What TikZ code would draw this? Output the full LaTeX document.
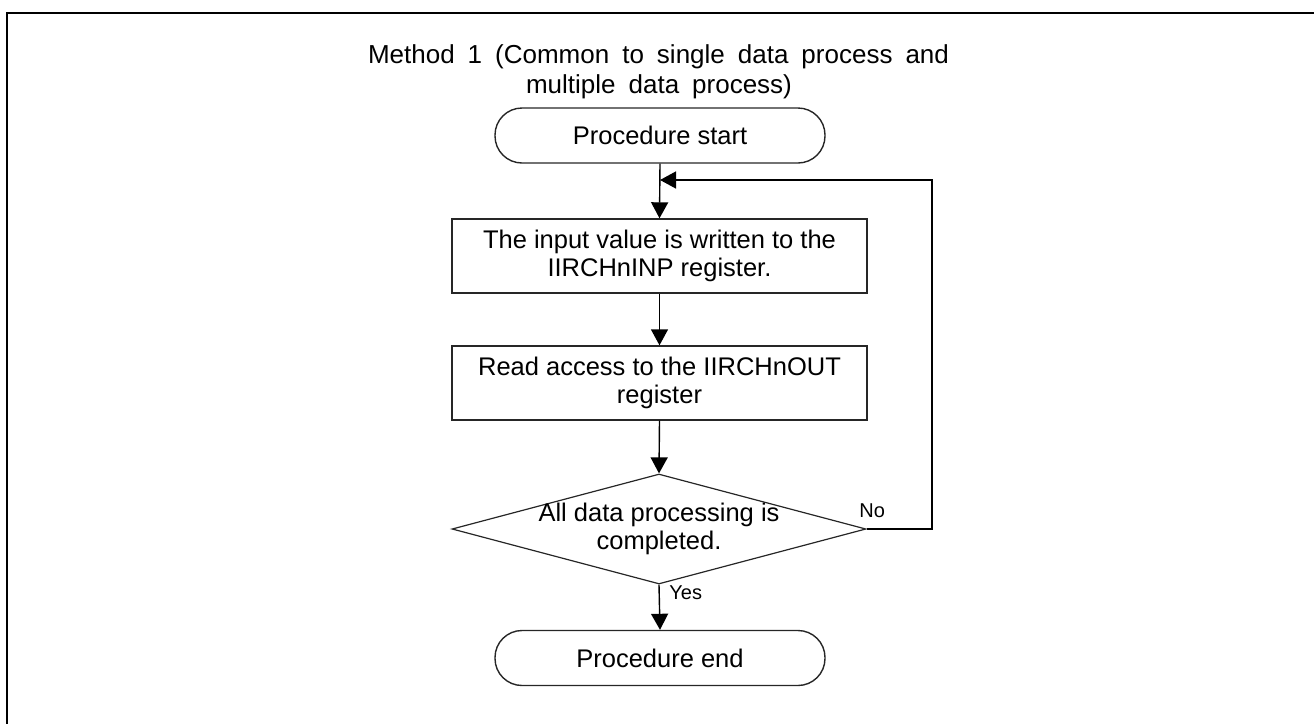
\documentclass[tikz,border=0pt]{standalone}
\usepackage{fontspec}
\setmainfont{Liberation Sans}
\usetikzlibrary{arrows.meta,shapes.geometric}
\begin{document}
\begin{tikzpicture}[x=0.5pt,y=-0.5pt,
  every node/.style={font=\fontsize{12.75pt}{14pt}\selectfont, inner sep=0pt, text=black},
  titletext/.style={font=\fontsize{13pt}{15pt}\selectfont, anchor=base},
  term/.style={draw=black!85, rounded corners=13.5pt, minimum width=165pt, minimum height=27.5pt, line width=0.7pt},
  proc/.style={draw=black!85, minimum width=207.5pt, minimum height=37pt, line width=0.7pt, align=center},
  decision/.style={draw=black!85, diamond, minimum width=207pt, minimum height=55pt, line width=0.6pt},
  conn/.style={line width=0.7pt, draw=black},
  arr/.style={conn, -{Triangle[length=8pt,width=8.5pt]}},
  lbl/.style={font=\fontsize{10pt}{12pt}\selectfont},
  frameline/.style={line width=1pt, draw=black}
]
\useasboundingbox (0,0) rectangle (1314,724);
\draw[frameline] (7,724) -- (7,13) -- (1314,13);

\node[titletext] (title1) at (658.5,63) {\spaceskip=6.5pt Method 1 (Common to single data process and};
\node[titletext] (title2) at (659,93) {\spaceskip=6.5pt multiple data process)};

\node[term] (start) at (660,135.5) {Procedure start};
\node[proc] (write) at (659.5,256) {The input value is written to the\\IIRCHnINP register.};
\node[proc] (read) at (659.5,383) {Read access to the IIRCHnOUT\\register};
\node[decision] (check) at (659,529) {};
\node[align=center] (checktext) at (659,529) {All data processing is\\completed.};
\node[term] (end) at (660,658) {Procedure end};

\coordinate (join) at (660,180);
\coordinate (loopdown) at (932,529);
\coordinate (loopup) at (932,180);

\draw[arr] (start.south) -- (write.north);
\draw[arr] (write.south) -- (read.north);
\draw[arr] (read.south) -- (check.north);
\draw[arr] (check.south) -- (end.north);
\draw[arr] (check.east) -- (loopdown) -- (loopup) -- (join);

\node[lbl, anchor=west] (no) at (859,511) {No};
\node[lbl, anchor=west] (yes) at (669,593) {Yes};
\end{tikzpicture}
\end{document}
